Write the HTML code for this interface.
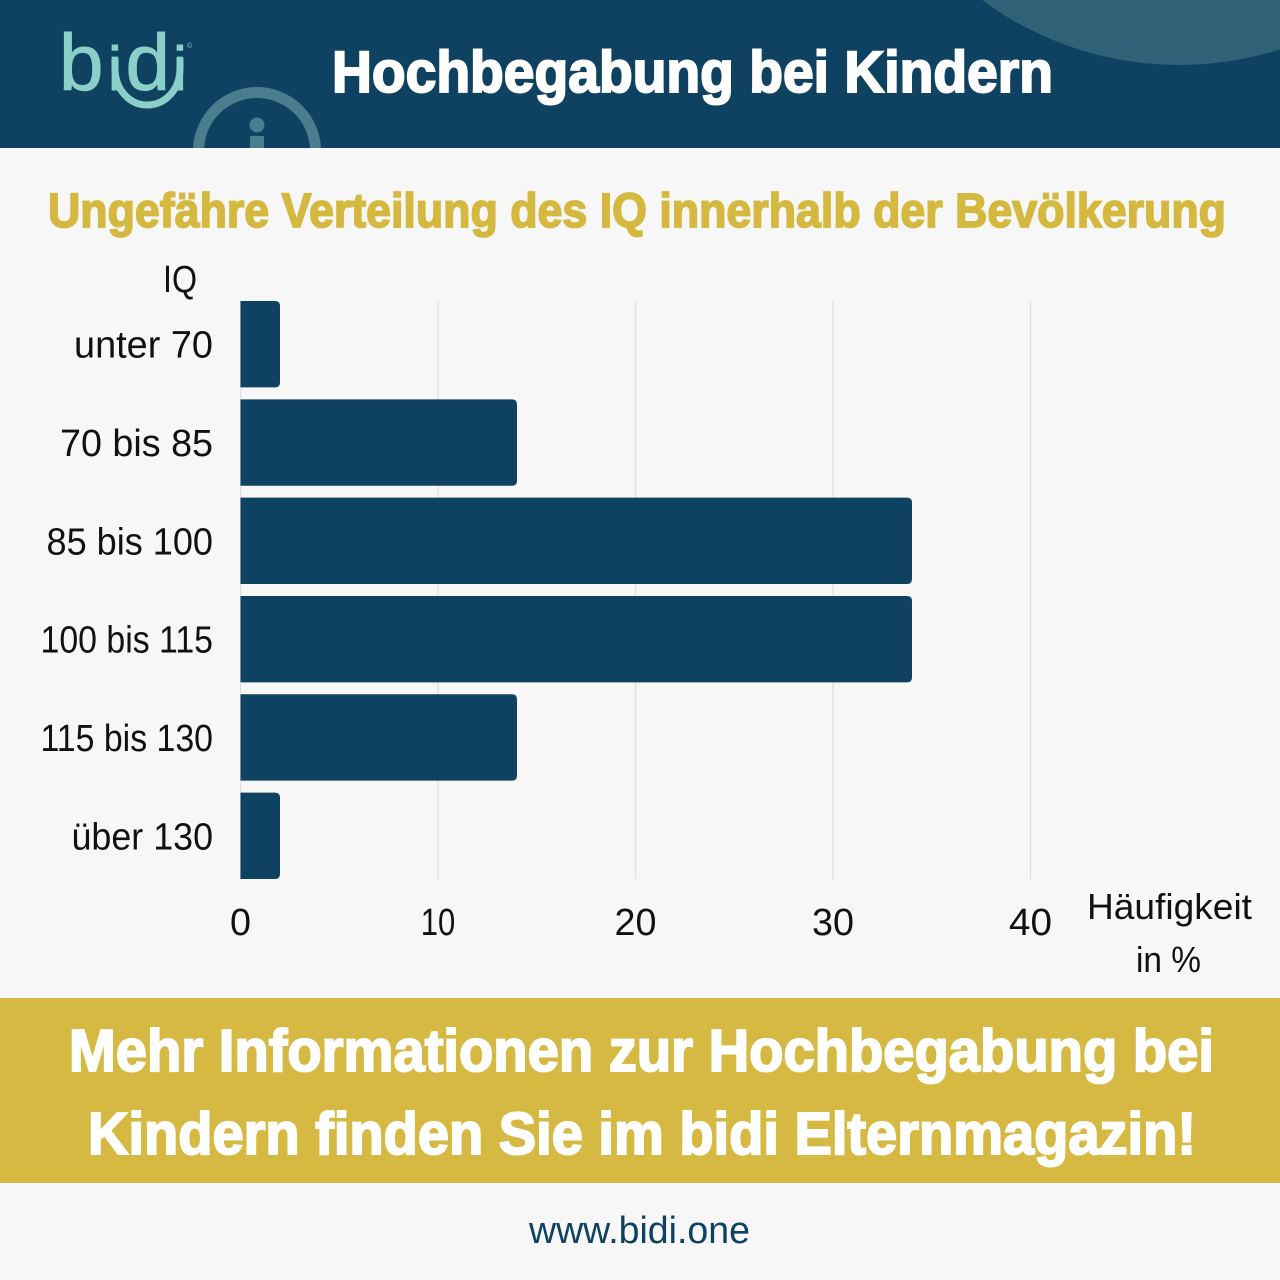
<!DOCTYPE html>
<html lang="de">
<head>
<meta charset="utf-8">
<title>Hochbegabung bei Kindern</title>
<style>
html,body{margin:0;padding:0;background:#f7f7f7;width:1280px;height:1280px;overflow:hidden}
svg{display:block}
text{font-family:"Liberation Sans",sans-serif}
.head{font-weight:700}
</style>
</head>
<body>
<svg id="poster" xmlns="http://www.w3.org/2000/svg" width="1280" height="1280" viewBox="0 0 1280 1280">
  <rect x="0" y="0" width="1280" height="1280" fill="#f7f7f7"/>
  <g>
    <clipPath id="hclip"><rect x="0" y="0" width="1280" height="148"/></clipPath>
    <rect x="0" y="0" width="1280" height="148" fill="#0f4160"/>
    <g clip-path="url(#hclip)">
      <circle cx="1179" cy="-266" r="331" fill="#2f6276"/>
      <circle cx="257" cy="151" r="58.5" fill="none" stroke="#4a7d8d" stroke-width="11"/>
      <circle cx="257" cy="125" r="7.5" fill="#4a7d8d"/>
      <rect x="250" y="136" width="14" height="14" fill="#4a7d8d"/>
    </g>
    <g>
      <text y="90" font-size="80" fill="#8ad0c8" stroke="#8ad0c8" stroke-width="1"><tspan x="59">b</tspan><tspan x="108" font-size="62">i</tspan><tspan x="125.500">d</tspan><tspan x="173" font-size="62">i</tspan></text>
      <path d="M115 58 V68 C115 90 130 105 147 105 C165 105 180 90 180 68 V58" fill="none" stroke="#8ad0c8" stroke-width="7"/>
      <text x="187" y="48" font-size="7" fill="#8ad0c8">©</text>
    </g>
    <text class="head" x="332" y="92" font-size="58" fill="#fff" stroke="#fff" stroke-width="2" textLength="721" lengthAdjust="spacingAndGlyphs">Hochbegabung bei Kindern</text>
  </g>
  <text class="head" x="48" y="227" font-size="48" fill="#d5b83f" stroke="#d5b83f" stroke-width="1.7" textLength="1178" lengthAdjust="spacingAndGlyphs">Ungefähre Verteilung des IQ innerhalb der Bevölkerung</text>

  <g id="chart"></g>
  <text x="163" y="292" font-size="38" fill="#111" textLength="34" lengthAdjust="spacingAndGlyphs">IQ</text>
  <g font-size="36" fill="#111">
    <text x="1087" y="919" textLength="165" lengthAdjust="spacingAndGlyphs">Häufigkeit</text>
    <text x="1136" y="972" textLength="65" lengthAdjust="spacingAndGlyphs">in %</text>
  </g>

  <g>
    <rect x="0" y="998" width="1280" height="185" fill="#d5b942"/>
    <text class="head" x="69" y="1071" font-size="59" fill="#fff" stroke="#fff" stroke-width="2" textLength="1145" lengthAdjust="spacingAndGlyphs">Mehr Informationen zur Hochbegabung bei</text>
    <text class="head" x="88" y="1154" font-size="59" fill="#fff" stroke="#fff" stroke-width="2" textLength="1108" lengthAdjust="spacingAndGlyphs">Kindern finden Sie im bidi Elternmagazin!</text>
  </g>
  <text x="529" y="1243" font-size="38" fill="#0f4160" textLength="221" lengthAdjust="spacingAndGlyphs">www.bidi.one</text>
</svg>
<script>
const categories = ["unter 70", "70 bis 85", "85 bis 100", "100 bis 115", "115 bis 130", "über 130"];
const frequencies = [2, 14, 34, 34, 14, 2];
const xTicks = [0, 10, 20, 30, 40];

const SVGNS = "http://www.w3.org/2000/svg";
const chart = document.getElementById("chart");
const plotTop = 301, plotBottom = 879, plotLeft = 240.5, unit = 19.75;
const xScale = function (v) { return plotLeft + v * unit; };
const step = (plotBottom - plotTop + 11.9) / categories.length;
const barHeight = step - 11.9;
const yScale = function (i) { return plotTop + i * step; };

/* advance widths of the reference typeface, used to fit label text */
const glyphAdvance = { "1": 13.5, "4": 22, " ": 9, b: 22, i: 9, s: 20, u: 21, "ü": 21, n: 21, t: 12, e: 21, r: 13 };
const labelWidth = function (s) {
  let w = 0;
  for (const ch of s) { w += glyphAdvance[ch] !== undefined ? glyphAdvance[ch] : 21; }
  return w;
};

xTicks.forEach(function (t) {
  const line = document.createElementNS(SVGNS, "line");
  
  
  line.setAttribute("x1", xScale(t));
  line.setAttribute("x2", xScale(t));
  line.setAttribute("y1", plotTop);
  line.setAttribute("y2", plotBottom);
  line.setAttribute("stroke", "#dedede");
  line.setAttribute("stroke-width", "1.2");
  chart.appendChild(line);

  const label = document.createElementNS(SVGNS, "text");
  
  
  label.setAttribute("x", xScale(t));
  label.setAttribute("y", 935);
  label.setAttribute("font-size", "38");
  label.setAttribute("fill", "#111");
  label.setAttribute("text-anchor", "middle");
  label.setAttribute("textLength", labelWidth(String(t)));
  label.setAttribute("lengthAdjust", "spacingAndGlyphs");
  label.textContent = String(t);
  chart.appendChild(label);
});

categories.forEach(function (c, i) {
  const x0 = xScale(0), x1 = xScale(frequencies[i]), y = yScale(i), r = 5;
  const bar = document.createElementNS(SVGNS, "path");
  
  
  bar.setAttribute("d", "M" + x0 + " " + y + "H" + (x1 - r) + "Q" + x1 + " " + y + " " + x1 + " " + (y + r) +
    "V" + (y + barHeight - r) + "Q" + x1 + " " + (y + barHeight) + " " + (x1 - r) + " " + (y + barHeight) + "H" + x0 + "Z");
  bar.setAttribute("fill", "#0f4160");
  chart.appendChild(bar);

  const label = document.createElementNS(SVGNS, "text");
  
  
  label.setAttribute("x", 213);
  label.setAttribute("y", y + barHeight / 2 + 13.5);
  label.setAttribute("font-size", "38");
  label.setAttribute("fill", "#111");
  label.setAttribute("text-anchor", "end");
  label.setAttribute("textLength", labelWidth(c));
  label.setAttribute("lengthAdjust", "spacingAndGlyphs");
  label.textContent = c;
  chart.appendChild(label);
});
</script>
</body>
</html>
